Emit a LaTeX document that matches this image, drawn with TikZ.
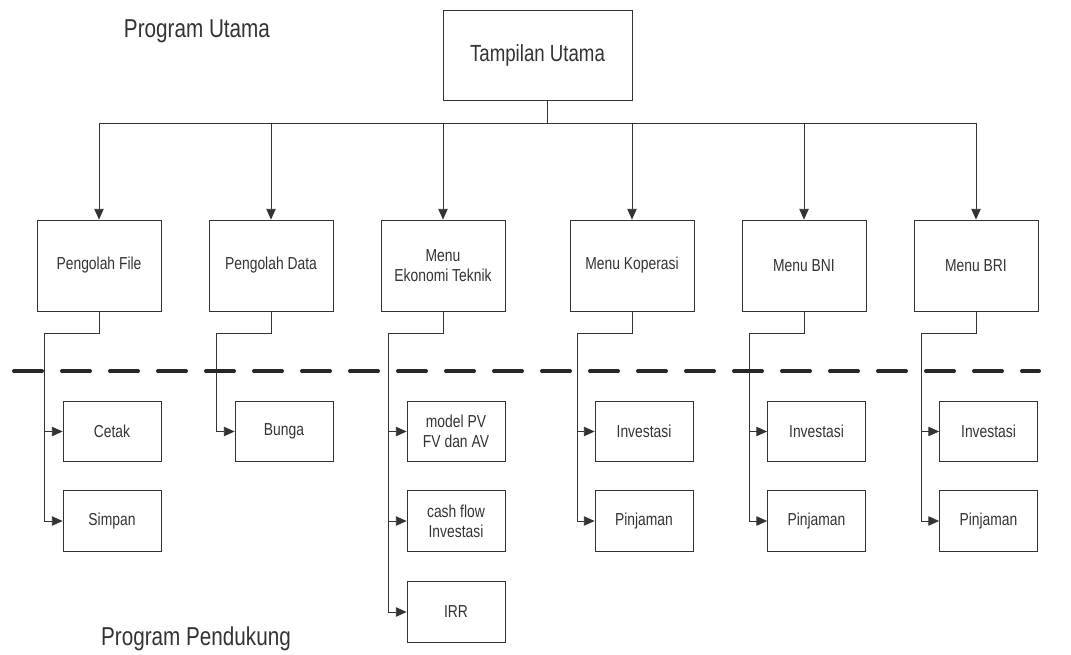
\documentclass[tikz,border=0pt]{standalone}
\usepackage{fontspec}
\setmainfont[FakeStretch=0.8]{Liberation Sans}
\usetikzlibrary{arrows.meta,
                positioning
                }

\begin{document}
\begin{tikzpicture}[
        x = 0.75pt, y = -0.75pt,
        line width = 0.6pt,
        mainbox/.style = {draw=black!80, minimum width=141.75pt, minimum height=67.5pt,
                          font=\fontsize{17.5}{20}\selectfont, text=black!80},
        menu/.style = {draw=black!80, minimum width=93pt, minimum height=68.25pt, align=center,
                       font=\fontsize{13}{15}\selectfont, text=black!80},
        sub/.style = {draw=black!80, minimum width=73.5pt, minimum height=45.5pt, align=center,
                      font=\fontsize{13}{15}\selectfont, text=black!80},
        link/.style = {draw=black!80},
        arr/.style = {link, -{Triangle[length=8pt,width=7pt]}},
        sepline/.style = {line width=3pt, line cap=round, draw=black!85,
                          dash pattern=on 21pt off 15pt},
        title/.style = {font=\fontsize{19.4}{22}\selectfont, text=black!80}
    ]
    \useasboundingbox (0,0) rectangle (1071,655);

    \node (utama) [mainbox] at (537.5,55) {Tampilan Utama};
    \coordinate (bus) at (547,123);

    \node (pfile) [menu] at (99,265.5)  {Pengolah File};
    \node (pdata) [menu] at (271,265.5) {Pengolah Data};
    \node (ekon)  [menu] at (443,265.5) {Menu\\Ekonomi Teknik};
    \node (kop)   [menu] at (632,265.5) {Menu Koperasi};
    \node (bni)   [menu] at (804,265.5) {Menu BNI};
    \node (bri)   [menu] at (976,265.5) {Menu BRI};

    \draw[link] (bus |- utama.south) -- (bus);
    \draw[arr] (bus) -| (pfile);
    \draw[arr] (bus) -| (pdata);
    \draw[arr] (bus) -| (ekon);
    \draw[arr] (bus) -| (kop);
    \draw[arr] (bus) -| (bni);
    \draw[arr] (bus) -| (bri);

    % program pendukung
    \node (cetak)  [sub] at (112,431.5) {Cetak};
    \node (simpan) [sub] at (112,521)   {Simpan};
    \node (bunga)  [sub] at (284,431.5) {Bunga};
    \node (pv)     [sub] at (456,431.5) {model PV\\FV dan AV};
    \node (cash)   [sub] at (456,521)   {cash flow\\Investasi};
    \node (irr)    [sub] at (456,612)   {IRR};
    \node (kopinv) [sub] at (644,431.5) {Investasi};
    \node (kopinj) [sub] at (644,521)   {Pinjaman};
    \node (bniinv) [sub] at (816.5,431.5) {Investasi};
    \node (bniinj) [sub] at (816.5,521)   {Pinjaman};
    \node (briinv) [sub] at (988.5,431.5) {Investasi};
    \node (briinj) [sub] at (988.5,521)   {Pinjaman};

    \coordinate (s1) at (44,333);
    \coordinate (s2) at (216,333);
    \coordinate (s3) at (388,333);
    \coordinate (s4) at (577,333);
    \coordinate (s5) at (749,333);
    \coordinate (s6) at (921,333);

    \draw[link] (pfile.south) |- (s1);
    \draw[arr] (s1) |- (cetak);
    \draw[arr] (s1) |- (simpan);
    \draw[link] (pdata.south) |- (s2);
    \draw[arr] (s2) |- (bunga);
    \draw[link] (ekon.south) |- (s3);
    \draw[arr] (s3) |- (pv);
    \draw[arr] (s3) |- (cash);
    \draw[arr] (s3) |- (irr);
    \draw[link] (kop.south) |- (s4);
    \draw[arr] (s4) |- (kopinv);
    \draw[arr] (s4) |- (kopinj);
    \draw[link] (bni.south) |- (s5);
    \draw[arr] (s5) |- (bniinv);
    \draw[arr] (s5) |- (bniinj);
    \draw[link] (bri.south) |- (s6);
    \draw[arr] (s6) |- (briinv);
    \draw[arr] (s6) |- (briinj);

    \draw[sepline] (14,371) -- (1039,371);

    \node (lblutama) [title] at (197,31)  {Program Utama};
    \node (lblpend)  [title] at (196,639) {Program Pendukung};
\end{tikzpicture}
\end{document}
